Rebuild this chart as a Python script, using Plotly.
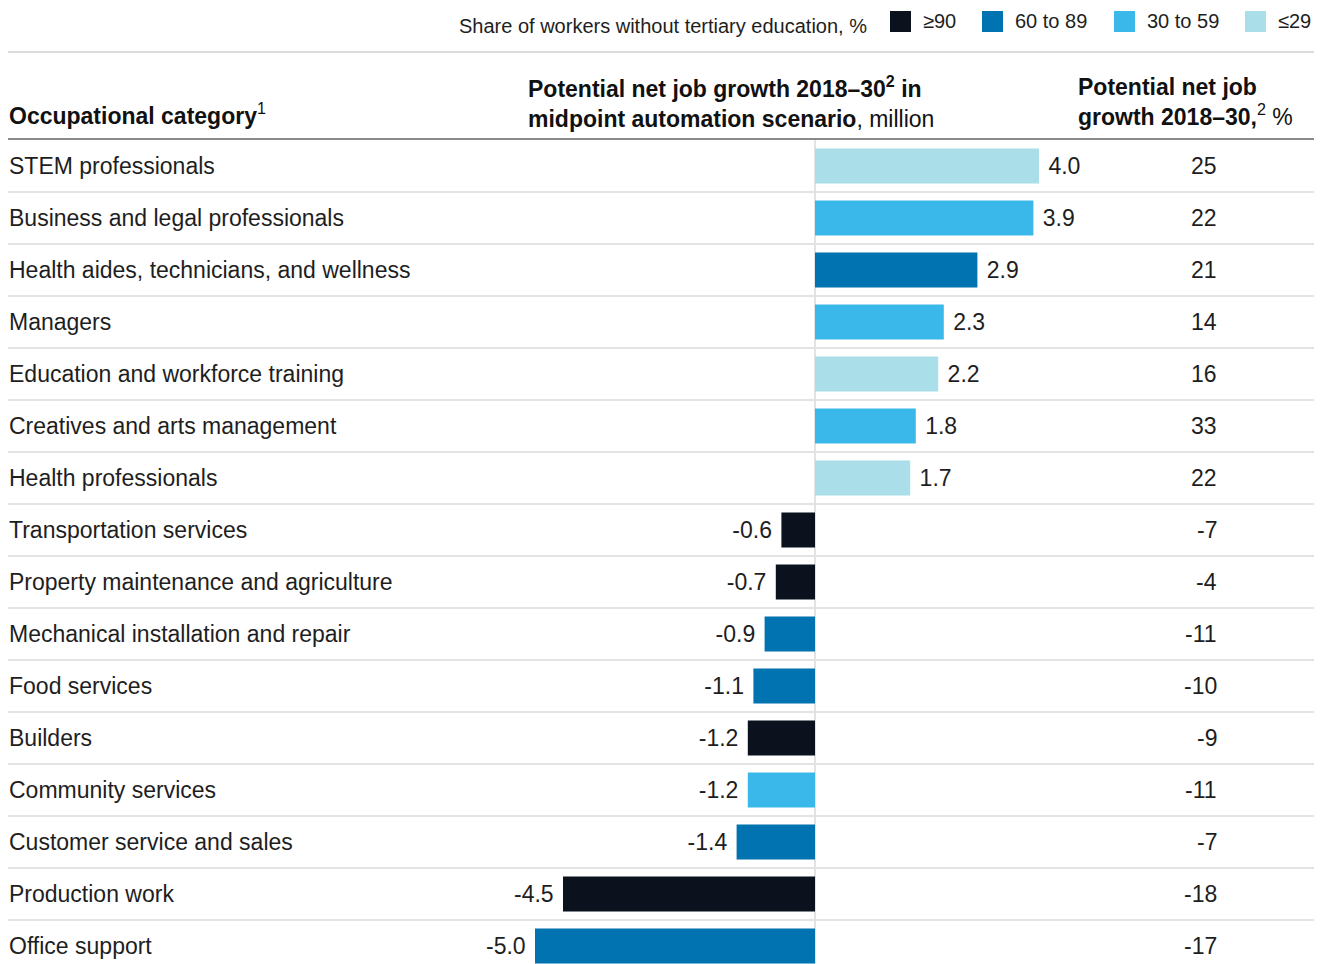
import plotly.graph_objects as go

categories = [
    "STEM professionals",
    "Business and legal professionals",
    "Health aides, technicians, and wellness",
    "Managers",
    "Education and workforce training",
    "Creatives and arts management",
    "Health professionals",
    "Transportation services",
    "Property maintenance and agriculture",
    "Mechanical installation and repair",
    "Food services",
    "Builders",
    "Community services",
    "Customer service and sales",
    "Production work",
    "Office support",
]
growth_million = [4.0, 3.9, 2.9, 2.3, 2.2, 1.8, 1.7, -0.6, -0.7, -0.9, -1.1, -1.2, -1.2, -1.4, -4.5, -5.0]
growth_pct = [25, 22, 21, 14, 16, 33, 22, -7, -4, -11, -10, -9, -11, -7, -18, -17]
edu_group = ["≤29", "30 to 59", "60 to 89", "30 to 59", "≤29", "30 to 59", "≤29",
             "≥90", "≥90", "60 to 89", "60 to 89", "≥90", "30 to 59", "60 to 89", "≥90", "60 to 89"]
legend_groups = ["≥90", "60 to 89", "30 to 59", "≤29"]
group_colors = {"≥90": "#0b121d", "60 to 89": "#0073b0", "30 to 59": "#3bb8ea", "≤29": "#aadfea"}

W, H = 1328, 964
ML, MR, MT, MB = 8, 14, 140, 0
PW, PH = W - ML - MR, H - MT - MB
ROW = 52.0
PXU = 56.0  # pixels per million
ZERO_PX = 815.0

def px2x(px):
    return (px - ML) / PW

def py2y(py):
    return (H - MB - py) / PH

xmin = -(ZERO_PX - ML) / PXU
xmax = (W - MR - ZERO_PX) / PXU
n_vis = PH / ROW
yrange = [n_vis - 0.5, -0.5]

TXT = "#1e1e1e"
FONT = "Liberation Sans, Arial, sans-serif"
FS = 23
NB = "\u00a0"

def bar_label(v):
    s = f"{v:.1f}"
    return NB + s if v >= 0 else s + NB

fig = go.Figure()
fig.add_trace(go.Bar(
    x=growth_million,
    y=list(range(len(categories))),
    orientation="h",
    marker=dict(color=[group_colors[g] for g in edu_group], line=dict(width=0)),
    width=0.67,
    text=[bar_label(v) for v in growth_million],
    textposition="outside",
    constraintext="none",
    cliponaxis=False,
    textfont=dict(size=FS, color=TXT, family=FONT),
    showlegend=False,
    hoverinfo="skip",
))

shapes = []
# row separators
for i in range(len(categories)):
    shapes.append(dict(type="line", xref="paper", yref="y", x0=0, x1=1, y0=i + 0.5, y1=i + 0.5,
                       line=dict(color="#e3e3e3", width=2), layer="below"))
# zero line
shapes.append(dict(type="line", xref="x", yref="paper", x0=0, x1=0, y0=0, y1=1,
                   line=dict(color="#e3e3e3", width=2), layer="below"))
# header rule
shapes.append(dict(type="line", xref="paper", yref="paper", x0=0, x1=1, y0=py2y(139), y1=py2y(139),
                   line=dict(color="#8a8a8a", width=2)))
# top rule
shapes.append(dict(type="line", xref="paper", yref="paper", x0=0, x1=1, y0=py2y(52), y1=py2y(52),
                   line=dict(color="#cfcfcf", width=1.5)))

annotations = []
# category labels and percentage column
for i, (c, p) in enumerate(zip(categories, growth_pct)):
    annotations.append(dict(text=c, xref="paper", yref="y", x=px2x(7), y=i, xanchor="left", yanchor="middle",
                            showarrow=False, font=dict(size=FS, color=TXT, family=FONT)))
    annotations.append(dict(text=str(p), xref="x", yref="y", x=(1219 - ZERO_PX) / PXU, y=i,
                            xanchor="right", yanchor="middle", showarrow=False,
                            font=dict(size=FS, color=TXT, family=FONT)))

# headers
annotations.append(dict(text="<b>Occupational category</b><sup>1</sup>", xref="paper", yref="paper",
                        x=px2x(7), y=py2y(114), xanchor="left", yanchor="middle", showarrow=False,
                        font=dict(size=FS, color="#111", family=FONT)))
annotations.append(dict(text="<b>Potential net job growth 2018–30<sup>2</sup> in</b><br><b>midpoint automation scenario</b>, million",
                        xref="paper", yref="paper", x=px2x(526), y=py2y(102), xanchor="left", yanchor="middle",
                        align="left", showarrow=False, font=dict(size=FS, color="#111", family=FONT)))
annotations.append(dict(text="<b>Potential net job</b><br><b>growth 2018–30,</b><sup>2</sup> %",
                        xref="paper", yref="paper", x=px2x(1076), y=py2y(102), xanchor="left", yanchor="middle",
                        align="left", showarrow=False, font=dict(size=FS, color="#111", family=FONT)))

# legend (manual)
annotations.append(dict(text="Share of workers without tertiary education, %", xref="paper", yref="paper",
                        x=px2x(869), y=py2y(26), xanchor="right", yanchor="middle", showarrow=False,
                        font=dict(size=20, color=TXT, family=FONT)))
sq_x = [890, 982, 1114, 1245]
for g, sx in zip(legend_groups, sq_x):
    shapes.append(dict(type="rect", xref="paper", yref="paper", x0=px2x(sx), x1=px2x(sx + 21),
                       y0=py2y(32), y1=py2y(11), fillcolor=group_colors[g],
                       line=dict(width=0)))
    annotations.append(dict(text=g, xref="paper", yref="paper", x=px2x(sx + 31), y=py2y(21),
                            xanchor="left", yanchor="middle", showarrow=False,
                            font=dict(size=20, color=TXT, family=FONT)))

fig.update_layout(
    width=W, height=H,
    margin=dict(l=ML, r=MR, t=MT, b=MB, pad=0),
    paper_bgcolor="white", plot_bgcolor="white",
    xaxis=dict(range=[xmin, xmax], visible=False, fixedrange=True),
    yaxis=dict(range=yrange, visible=False, fixedrange=True),
    bargap=0.33,
    shapes=shapes,
    annotations=annotations,
    font=dict(family=FONT),
)

fig.write_html("out.html", config={"displayModeBar": False},
               post_script="document.body.style.margin='0';")
